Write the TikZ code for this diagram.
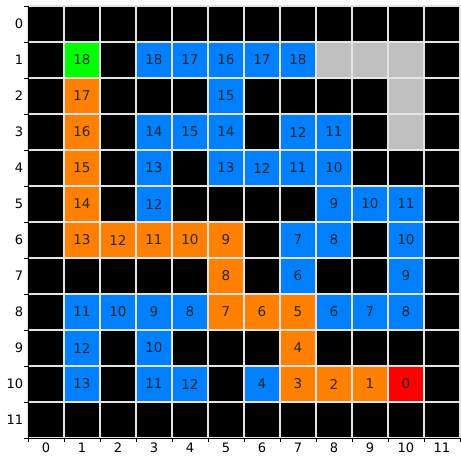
\documentclass[tikz,border=0pt]{standalone}
\usepackage{fontspec}
\setmainfont{DejaVu Sans}
\usepackage{tikz}
\usetikzlibrary{positioning}
\definecolor{pathblue}{RGB}{0,128,255}
\definecolor{pathorange}{RGB}{255,128,0}
\definecolor{startgreen}{RGB}{0,255,0}
\definecolor{goalred}{RGB}{255,0,0}
\definecolor{wallgray}{RGB}{192,192,192}
\definecolor{gridgray}{RGB}{228,228,228}

\begin{document}
\begin{tikzpicture}[x=36pt, y=-36pt,
  cell/.style={minimum size=36pt, inner sep=0pt, outer sep=0pt, font=\fontsize{13.5}{15}\selectfont, text=black!85},
  ticklabel/.style={font=\fontsize{13}{14}\selectfont, inner sep=0pt}]
  \useasboundingbox (-28/36, -6/36) rectangle (433/36, 450/36);

  % 1. Nen den cua luoi
  \fill[black] (0,0) rectangle (12,12);

  % 2. O tuong xam
  \foreach \r/\c in {1/8, 1/9, 1/10, 2/10, 3/10}
    \node[cell, fill=wallgray] (wall-\r-\c) at (\c+0.5, \r+0.5) {};

  % 3. O co so buoc
  \foreach \r/\c/\col/\n in {1/1/startgreen/18, 1/3/pathblue/18, 1/4/pathblue/17, 1/5/pathblue/16, 1/6/pathblue/17, 1/7/pathblue/18,
      2/1/pathorange/17, 2/5/pathblue/15,
      3/1/pathorange/16, 3/3/pathblue/14, 3/4/pathblue/15, 3/5/pathblue/14, 3/7/pathblue/12, 3/8/pathblue/11,
      4/1/pathorange/15, 4/3/pathblue/13, 4/5/pathblue/13, 4/6/pathblue/12, 4/7/pathblue/11, 4/8/pathblue/10,
      5/1/pathorange/14, 5/3/pathblue/12, 5/8/pathblue/9, 5/9/pathblue/10, 5/10/pathblue/11,
      6/1/pathorange/13, 6/2/pathorange/12, 6/3/pathorange/11, 6/4/pathorange/10, 6/5/pathorange/9, 6/7/pathblue/7, 6/8/pathblue/8, 6/10/pathblue/10,
      7/5/pathorange/8, 7/7/pathblue/6, 7/10/pathblue/9,
      8/1/pathblue/11, 8/2/pathblue/10, 8/3/pathblue/9, 8/4/pathblue/8, 8/5/pathorange/7, 8/6/pathorange/6, 8/7/pathorange/5, 8/8/pathblue/6, 8/9/pathblue/7, 8/10/pathblue/8,
      9/1/pathblue/12, 9/3/pathblue/10, 9/7/pathorange/4,
      10/1/pathblue/13, 10/3/pathblue/11, 10/4/pathblue/12, 10/6/pathblue/4, 10/7/pathorange/3, 10/8/pathorange/2, 10/9/pathorange/1, 10/10/goalred/0}
    \node[cell, fill=\col] (cell-\r-\c) at (\c+0.5, \r+0.5) {\n};

  % 4. Duong luoi
  \foreach \i in {0,...,12} {
    \draw[gridgray, line width=2pt] (\i,0) -- (\i,12);
    \draw[gridgray, line width=2pt] (0,\i) -- (12,\i);
  }
  \draw[black, line width=0.8pt] (0,0) -- (0,12) -- (12,12);

  % 5. Ticks va nhan truc
  \foreach \i in {0,...,12} {
    \draw[black, line width=0.8pt] (\i,12) -- ++(0,0.1);
    \draw[black, line width=0.8pt] (0,\i) -- ++(-0.1,0);
  }
  \foreach \i in {0,...,11} {
    \node[ticklabel, anchor=north] (xlabel-\i) at (\i+0.5, 12.13) {\i};
    \node[ticklabel, anchor=east] (ylabel-\i) at (-0.13, \i+0.5) {\i};
  }
\end{tikzpicture}
\end{document}
